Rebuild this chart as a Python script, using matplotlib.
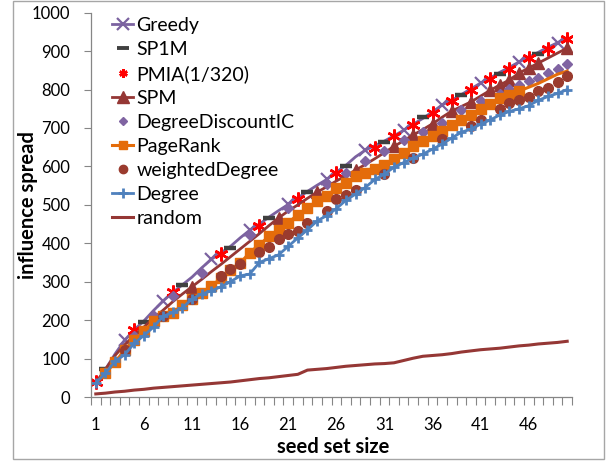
import numpy as np
import matplotlib
matplotlib.use("Agg")
import matplotlib.pyplot as plt
from matplotlib.patches import Rectangle

plt.rcParams['font.family'] = ['Lato', 'DejaVu Sans']

# ---------------- data ----------------
seed_sizes = list(range(1, 51))
tick_labels = ['1', '6', '11', '16', '21', '26', '31', '36', '41', '46']

greedy = [38, 72, 112, 148, 175, 198, 225, 250, 272, 292, 312, 336, 358, 375, 392, 414, 434, 450, 468, 485,
          501, 518, 535, 551, 566, 585, 603, 625, 642, 654, 666, 680, 694, 710, 725, 742, 760, 772, 787, 802,
          817, 830, 845, 858, 872, 884, 897, 910, 922, 935]

sp1m_x = [2, 6, 10, 15, 19, 23, 27, 31, 35, 39, 43, 47]
sp1m = [73, 195, 291, 388, 466, 534, 602, 663, 728, 785, 841, 893]

pmia_x = [1, 5, 9, 14, 18, 22, 26, 30, 32, 34, 36, 38, 40, 42, 44, 46, 48, 50]
pmia = [38, 175, 273, 371, 446, 516, 584, 648, 678, 709, 739, 769, 798, 827, 854, 881, 906, 932]

spm = [36, 72, 108, 136, 160, 182, 205, 226, 248, 268, 287, 306, 326, 345, 365, 385, 405, 425, 446, 466,
       484, 500, 517, 533, 547, 562, 576, 590, 605, 620, 636, 652, 667, 682, 696, 711, 728, 744, 756, 768,
       783, 798, 812, 825, 843, 856, 869, 882, 895, 908]

ddic_x = [5, 7, 9, 12, 17, 21, 25, 27, 29, 31, 33, 35, 37, 39, 41, 43, 44, 45, 46, 47, 48, 49, 50]
ddic = [158, 211, 262, 322, 422, 491, 555, 583, 615, 639, 668, 690, 712, 746, 771, 789, 801, 812, 823, 831,
        843, 854, 866]

pagerank = [36, 62, 90, 123, 149, 171, 197, 210, 218, 240, 255, 270, 288, 309, 331, 348, 376, 396, 418, 435,
            454, 474, 491, 509, 523, 543, 558, 574, 582, 593, 604, 619, 634, 652, 665, 678, 691, 707, 722, 735,
            750, 763, 777, 786, 796, 806, 816, 828, 840, 848]

wdeg_x = [4, 8, 11, 14, 15, 16, 18, 19, 20, 21, 22, 23, 25, 26, 27, 28, 31, 34, 37, 40, 41, 43, 44, 45, 46,
          47, 48, 49, 50]
wdeg = [122, 212, 254, 315, 334, 345, 377, 391, 412, 423, 433, 452, 484, 514, 525, 538, 580, 622, 671, 704,
        721, 750, 764, 773, 780, 797, 804, 819, 834]

degree = [36, 62, 93, 110, 140, 160, 182, 210, 220, 232, 255, 268, 276, 287, 300, 315, 320, 350, 360, 370,
          392, 414, 435, 458, 472, 490, 512, 528, 545, 566, 580, 598, 610, 622, 632, 645, 658, 674, 689, 697,
          710, 721, 734, 743, 750, 758, 772, 782, 790, 800]

random_ = [8, 10, 13, 15, 18, 20, 23, 25, 27, 29, 31, 33, 35, 37, 39, 42, 45, 48, 50, 53,
           56, 59, 70, 72, 74, 77, 80, 82, 84, 86, 87, 89, 95, 101, 106, 108, 110, 113, 117, 120,
           123, 125, 127, 130, 133, 135, 138, 140, 142, 145]

# ---------------- figure ----------------
W, H = 611, 461
fig = plt.figure(figsize=(W / 100, H / 100), dpi=100)
ax_l, ax_r, ax_b, ax_t = 91, 572, 397, 12.7
ax = fig.add_axes([ax_l / W, (H - ax_b) / H, (ax_r - ax_l) / W, (ax_b - ax_t) / H])

x = np.array(seed_sizes)
c_greedy = '#7B62A0'
c_sp1m = '#404040'
c_pmia = '#FF0000'
c_spm = '#953735'
c_ddic = '#8064A2'
c_pr = '#E46C0A'
c_wd = '#9A3B2E'
c_deg = '#4F81BD'
c_rand = '#953735'

ax.plot(x, greedy, color=c_greedy, lw=2, marker='x', ms=9, mew=1.6,
        markevery=[3, 7, 12, 16, 20, 24, 28, 32, 36, 40, 44, 48], label='Greedy')
ax.plot(sp1m_x, sp1m, ls='none', color=c_sp1m, marker='_', ms=9, mew=3.2, label='SP1M')
ax.plot(pmia_x, pmia, ls='none', color=c_pmia, marker=(6, 2, 0), ms=10, mew=1.8, label='PMIA(1/320)')
ax.plot(x, spm, color=c_spm, lw=2, marker='^', ms=8.5,
        markevery=[10, 19, 23, 27, 31, 33, 35, 37, 39, 41, 42, 43, 44, 45, 46, 49], label='SPM')
ax.plot(ddic_x, ddic, ls='none', color=c_ddic, marker='D', ms=5.5, label='DegreeDiscountIC')
ax.plot(x, pagerank, color=c_pr, lw=2.2, marker='s', ms=6.5,
        markevery=list(range(1, 45)), label='PageRank')
ax.plot(wdeg_x, wdeg, ls='none', color=c_wd, marker='o', ms=7, label='weightedDegree')
ax.plot(x, degree, color=c_deg, lw=2, marker='+', ms=6.5, mew=2, label='Degree')
ax.plot(x, random_, color=c_rand, lw=2.2, label='random')

ax.set_xlim(0.5, 50.5)
ax.set_ylim(0, 1000)

tick_pos = [int(t) for t in tick_labels]
ax.set_xticks(tick_pos)
ax.set_xticklabels(tick_labels)
ax.set_xticks(np.arange(0.5, 51, 1.0), minor=True)
ax.tick_params(axis='x', which='major', length=0, pad=14.5, labelsize=12)
ax.tick_params(axis='x', which='minor', length=6, width=0.8, color='#868686', direction='out')
ax.set_yticks(np.arange(0, 1001, 100))
ax.tick_params(axis='y', which='major', length=5, width=0.8, color='#868686', direction='out',
               pad=10, labelsize=12)

for s in ['top', 'right']:
    ax.spines[s].set_visible(False)
for s in ['left', 'bottom']:
    ax.spines[s].set_color('#868686')
    ax.spines[s].set_linewidth(0.9)

ax.set_xlabel('seed set size', fontsize=14.5, fontweight='bold')
ax.set_ylabel('influence spread', fontsize=14.5, fontweight='bold')
ax.xaxis.set_label_coords((333 - ax_l) / (ax_r - ax_l), -(437 - ax_b) / (ax_b - ax_t))
ax.yaxis.set_label_coords(-(ax_l - 38) / (ax_r - ax_l), 0.5)

leg = ax.legend(loc='upper left',
                bbox_to_anchor=((112 - ax_l) / (ax_r - ax_l), 1.0 + (ax_t - 17) / (ax_b - ax_t)),
                frameon=False, fontsize=14, handlelength=1.1, handletextpad=0.15, labelspacing=0.36,
                borderpad=0, borderaxespad=0)
small = {'Greedy': 8, 'SP1M': 8, 'PMIA(1/320)': 6, 'SPM': 9, 'DegreeDiscountIC': 4.5,
         'PageRank': 6, 'weightedDegree': 6, 'Degree': 7}
for h, t in zip(leg.legend_handles, leg.get_texts()):
    lab = t.get_text()
    if lab in small:
        h.set_markersize(small[lab])
    if lab == 'SP1M':
        h.set_markeredgewidth(2.8)

fig.patches.append(Rectangle((12.5 / W, 1 - 459 / H), (604 - 12.5) / W, (459 - 1.5) / H,
                             transform=fig.transFigure, fill=False, edgecolor='#A6A6A6', lw=1))

fig.savefig('out.png', dpi=100)
